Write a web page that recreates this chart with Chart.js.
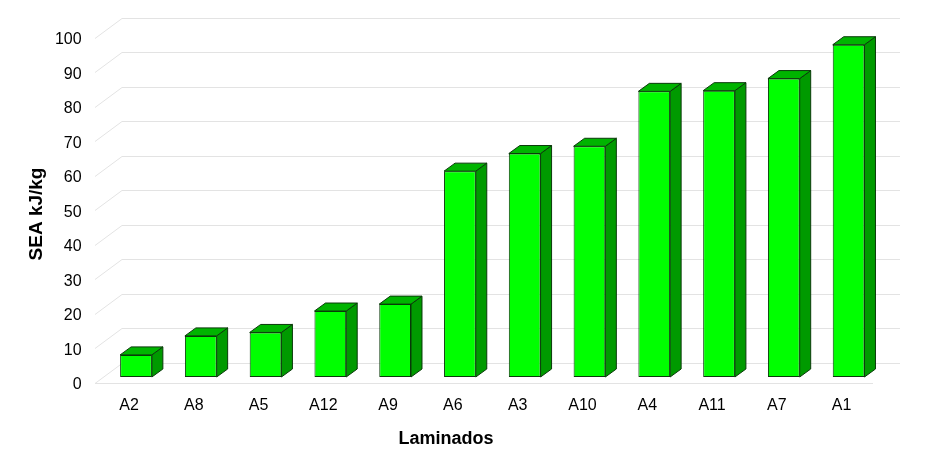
<!DOCTYPE html>
<html>
<head>
<meta charset="utf-8">
<script src="https://cdn.jsdelivr.net/npm/chart.js@4"></script>
<style>
  html, body { margin: 0; padding: 0; background: #fff; }
  #wrap { width: 927px; height: 455px; }
</style>
</head>
<body>
<div id="wrap"><canvas id="c"></canvas></div>
<script>
// Laminados vs SEA
const categories = ['A2', 'A8', 'A5', 'A12', 'A9', 'A6', 'A3', 'A10', 'A4', 'A11', 'A7', 'A1'];
const seaValues = [6.4, 11.9, 12.9, 19.1, 21.1, 59.6, 64.7, 66.8, 82.7, 82.9, 86.4, 96.2];
const yTicks = [0, 10, 20, 30, 40, 50, 60, 70, 80, 90, 100];
const xTitle = 'Laminados';
const yTitle = 'SEA kJ/kg';

const DX = 11, DY = 8;          // bar depth
const WALL_DX = 27, WALL_DY = 20; // wall depth
const FONT = 'Liberation Sans, Arial, sans-serif';

// back-wall gridlines + floor, drawn behind the bars
const wallPlugin = {
  id: 'wall',
  beforeDatasetsDraw(chart) {
    const { ctx, scales: { y } } = chart;
    const x0 = 95, x1 = x0 + WALL_DX, xEnd = 900;
    ctx.save();
    ctx.strokeStyle = '#e3e3e3';
    ctx.lineWidth = 1;
    yTicks.forEach(v => {
      const py = Math.round(y.getPixelForValue(v)) + 0.5;
      ctx.beginPath();
      ctx.moveTo(x0, py + 6);
      ctx.lineTo(x1, py + 6 - WALL_DY);
      ctx.lineTo(xEnd, py + 6 - WALL_DY);
      ctx.stroke();
    });
    const fy = Math.round(y.getPixelForValue(0)) + 6.5;
    ctx.beginPath();
    ctx.moveTo(x0, fy);
    ctx.lineTo(873, fy);
    ctx.stroke();
    ctx.restore();
  }
};

// top and side faces of each bar
const boxPlugin = {
  id: 'box',
  afterDatasetsDraw(chart) {
    const { ctx } = chart;
    const meta = chart.getDatasetMeta(0);
    ctx.save();
    ctx.lineWidth = 1;
    ctx.strokeStyle = '#0a3a0a';
    ctx.lineJoin = 'round';
    meta.data.forEach(bar => {
      const { x, y, base, width } = bar.getProps(['x', 'y', 'base', 'width'], true);
      const l = x - width / 2, r = x + width / 2;
      // side
      ctx.fillStyle = '#009a00';
      ctx.beginPath();
      ctx.moveTo(r, y);
      ctx.lineTo(r + DX, y - DY);
      ctx.lineTo(r + DX, base - DY);
      ctx.lineTo(r, base);
      ctx.closePath();
      ctx.fill();
      ctx.stroke();
      // top
      ctx.fillStyle = '#00b400';
      ctx.beginPath();
      ctx.moveTo(l, y);
      ctx.lineTo(l + DX, y - DY);
      ctx.lineTo(r + DX, y - DY);
      ctx.lineTo(r, y);
      ctx.closePath();
      ctx.fill();
      ctx.stroke();
    });
    ctx.restore();
  }
};

// axis titles (placed like the original, not centred on the plot area)
const titlesPlugin = {
  id: 'titles',
  afterDraw(chart) {
    const { ctx } = chart;
    ctx.save();
    ctx.fillStyle = '#000';
    ctx.textAlign = 'center';
    ctx.textBaseline = 'middle';
    ctx.font = 'bold 18px ' + FONT;
    ctx.fillText(xTitle, 446, 439);
    ctx.translate(37, 214);
    ctx.rotate(-Math.PI / 2);
    ctx.font = 'bold 19px ' + FONT;
    ctx.fillText(yTitle, 0, 0);
    ctx.restore();
  }
};

new Chart(document.getElementById('c'), {
  type: 'bar',
  data: {
    labels: categories,
    datasets: [{
      label: 'SEA',
      data: seaValues,
      backgroundColor: '#00ff00',
      borderColor: '#0a3a0a',
      borderWidth: 1,
      borderSkipped: false,
      barPercentage: 0.49,
      categoryPercentage: 1,
      clip: false
    }]
  },
  options: {
    responsive: true,
    maintainAspectRatio: false,
    animation: false,
    layout: { padding: { top: 31, right: 46, bottom: 0, left: 0 } },
    plugins: {
      legend: { display: false },
      tooltip: { enabled: false }
    },
    scales: {
      x: {
        grid: { display: false, drawTicks: false },
        border: { display: false },
        ticks: { color: '#000', font: { family: FONT, size: 16 }, padding: 19, maxRotation: 0, labelOffset: -7 },
        afterFit: s => { s.height = 78; }
      },
      y: {
        min: 0,
        max: 100,
        grid: { display: false, drawTicks: false },
        border: { display: false },
        afterBuildTicks: s => { s.ticks = yTicks.map(v => ({ value: v })); },
        ticks: { color: '#000', font: { family: FONT, size: 16 }, padding: 22, labelOffset: 8 },
        afterFit: s => { s.width = 103.6; }
      }
    }
  },
  plugins: [wallPlugin, boxPlugin, titlesPlugin]
});
</script>
</body>
</html>
